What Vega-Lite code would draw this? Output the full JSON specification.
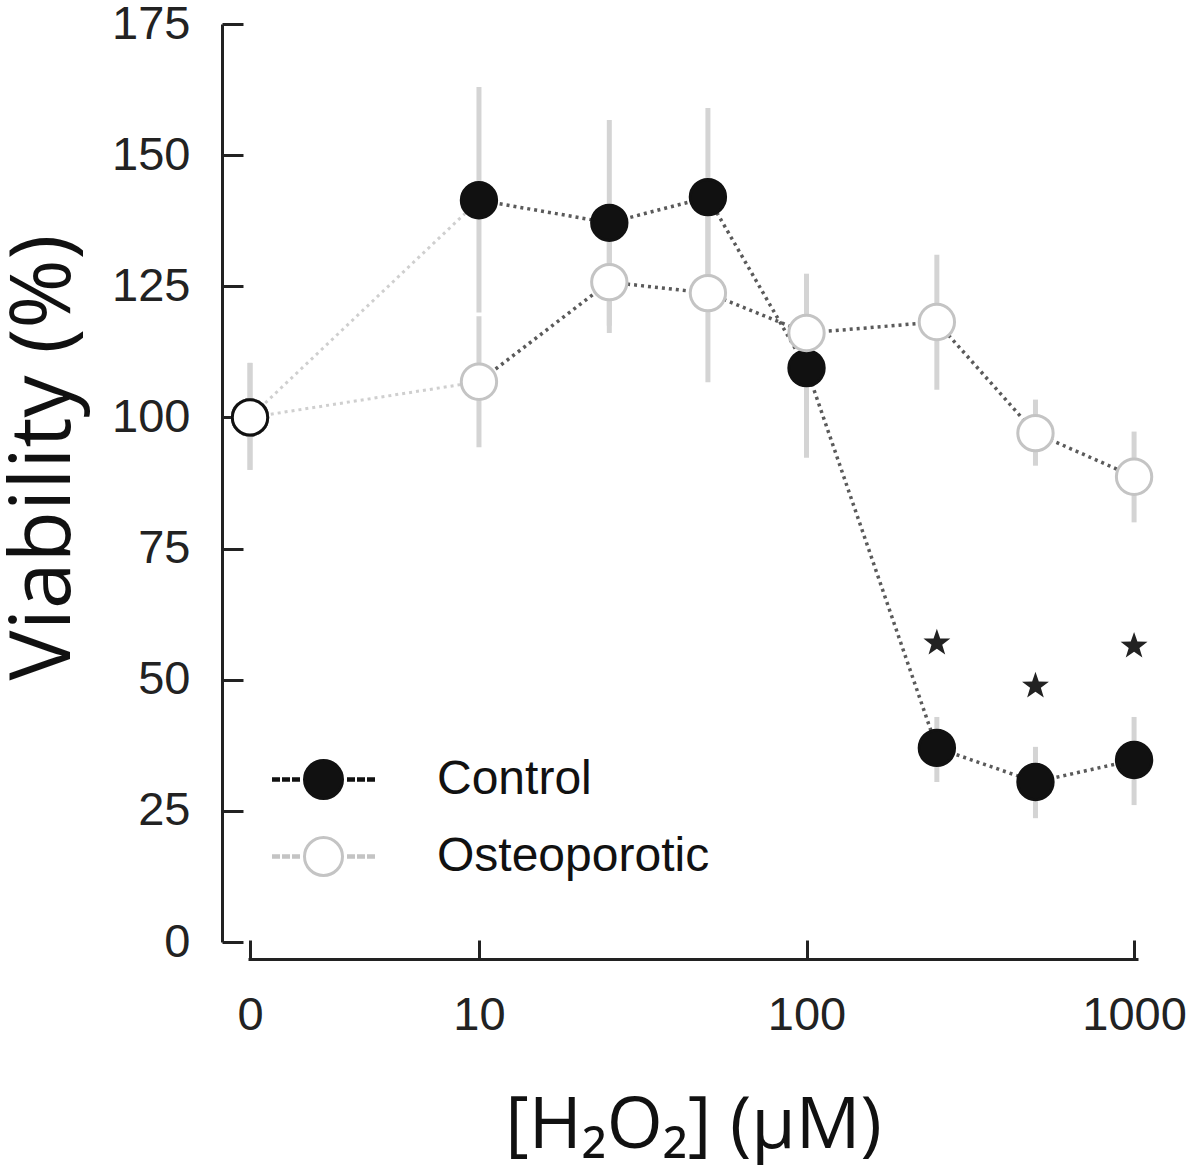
{
  "$schema": "https://vega.github.io/schema/vega-lite/v6.json",
  "width": 890,
  "height": 918,
  "autosize": "none",
  "padding": {"left": 248, "top": 24, "right": 62, "bottom": 229},
  "background": "white",
  "config": {"view": {"stroke": null}},
  "datasets": {
    "obs": [
      {"conc": 0, "group": "Control", "mean": 100, "lo": 90, "hi": 110.4, "star": null},
      {"conc": 10, "group": "Control", "mean": 141.4, "lo": 120, "hi": 163, "star": null},
      {"conc": 25, "group": "Control", "mean": 137.1, "lo": 117.5, "hi": 156.7, "star": null},
      {"conc": 50, "group": "Control", "mean": 142, "lo": 124.8, "hi": 159, "star": null},
      {"conc": 100, "group": "Control", "mean": 109.4, "lo": 92.3, "hi": 126.5, "star": null},
      {"conc": 250, "group": "Control", "mean": 37, "lo": 30.5, "hi": 42.9, "star": 57},
      {"conc": 500, "group": "Control", "mean": 30.5, "lo": 23.6, "hi": 37.2, "star": 48.8},
      {"conc": 1000, "group": "Control", "mean": 34.7, "lo": 26.1, "hi": 42.9, "star": 56.4},
      {"conc": 0, "group": "Osteoporotic", "mean": 100, "lo": 90, "hi": 110.4, "star": null},
      {"conc": 10, "group": "Osteoporotic", "mean": 106.8, "lo": 94.3, "hi": 119.3, "star": null},
      {"conc": 25, "group": "Osteoporotic", "mean": 125.8, "lo": 116.1, "hi": 135.5, "star": null},
      {"conc": 50, "group": "Osteoporotic", "mean": 123.7, "lo": 106.7, "hi": 140.7, "star": null},
      {"conc": 100, "group": "Osteoporotic", "mean": 116.1, "lo": 104.8, "hi": 127.4, "star": null},
      {"conc": 250, "group": "Osteoporotic", "mean": 118.2, "lo": 105.3, "hi": 131, "star": null},
      {"conc": 500, "group": "Osteoporotic", "mean": 97, "lo": 90.8, "hi": 103.4, "star": null},
      {"conc": 1000, "group": "Osteoporotic", "mean": 88.7, "lo": 80, "hi": 97.3, "star": null}
    ]
  },
  "data": {"name": "obs"},
  "transform": [{"calculate": "datum.conc == 0 ? 2 : datum.conc", "as": "x"}],
  "encoding": {
    "x": {
      "field": "x",
      "type": "quantitative",
      "scale": {"type": "log", "domain": [1.972, 1028], "nice": false},
      "axis": {
        "values": [2, 10, 100, 1000],
        "labelExpr": "datum.value < 5 ? '0' : format(datum.value, 'd')",
        "offset": 17,
        "tickSize": -19,
        "tickWidth": 3,
        "tickColor": "#222",
        "domainColor": "#222",
        "domainWidth": 3,
        "grid": false,
        "labelFont": "Liberation Sans",
        "labelFontSize": 47,
        "labelColor": "#222",
        "labelPadding": 52,
        "labelFlush": false,
        "title": "[H₂O₂] (μM)",
        "titleFont": "Open Sans",
        "titleFontSize": 72,
        "titleFontWeight": "normal",
        "titleColor": "#111",
        "titleX": 445,
        "titleY": 166,
        "titleBaseline": "middle",
        "titleAlign": "center"
      }
    }
  },
  "layer": [
    {
      "mark": {"type": "rule", "color": "#d4d4d4", "strokeWidth": 5},
      "encoding": {
        "y": {
          "field": "lo",
          "type": "quantitative",
          "scale": {"domain": [0, 175], "nice": false},
          "axis": {
            "values": [0, 25, 50, 75, 100, 125, 150, 175],
            "offset": 26,
            "tickSize": -21,
            "tickWidth": 3,
            "tickColor": "#222",
            "domainColor": "#222",
            "domainWidth": 3,
            "grid": false,
            "labelFont": "Liberation Sans",
            "labelFontSize": 47,
            "labelColor": "#222",
            "labelPadding": 53,
            "labelFlush": false,
            "title": "Viability (%)",
            "titleFont": "Open Sans",
            "titleFontSize": 84,
            "titleFontWeight": "normal",
            "titleColor": "#111",
            "titleX": -178,
            "titleY": 433,
            "titleBaseline": "middle",
            "titleAlign": "center",
            "titleAngle": -90
          }
        },
        "y2": {"field": "hi"}
      }
    },
    {
      "transform": [{"filter": "datum.conc <= 10"}],
      "mark": {"type": "line", "color": "#cfcfcf", "strokeWidth": 3, "strokeDash": [3, 4]},
      "encoding": {
        "y": {"field": "mean", "type": "quantitative"},
        "detail": {"field": "group", "type": "nominal"}
      }
    },
    {
      "transform": [{"filter": "datum.conc >= 10"}],
      "mark": {"type": "line", "color": "#5a5a5a", "strokeWidth": 3.5, "strokeDash": [3, 4]},
      "encoding": {
        "y": {"field": "mean", "type": "quantitative"},
        "detail": {"field": "group", "type": "nominal"}
      }
    },
    {
      "mark": {"type": "point", "shape": "circle", "size": 1250, "strokeWidth": 3, "opacity": 1, "filled": false},
      "encoding": {
        "y": {"field": "mean", "type": "quantitative"},
        "fill": {
          "field": "group",
          "type": "nominal",
          "scale": {"domain": ["Control", "Osteoporotic"], "range": ["#111111", "#ffffff"]},
          "legend": {
            "orient": "none",
            "legendX": 24,
            "legendY": 704,
            "title": null,
            "padding": 0,
            "symbolType": "M0.38,0A0.38,0.38,0,1,1,-0.38,0A0.38,0.38,0,1,1,0.38,0ZM-1,-0.015L-0.9,-0.015L-0.9,0.015L-1,0.015ZM-0.8,-0.015L-0.7,-0.015L-0.7,0.015L-0.8,0.015ZM-0.6,-0.015L-0.5,-0.015L-0.5,0.015L-0.6,0.015ZM0.5,-0.015L0.6,-0.015L0.6,0.015L0.5,0.015ZM0.7,-0.015L0.8,-0.015L0.8,0.015L0.7,0.015ZM0.9,-0.015L1,-0.015L1,0.015L0.9,0.015Z",
            "symbolSize": 10000,
            "symbolStrokeWidth": 3,
            "labelFont": "Liberation Sans",
            "labelFontSize": 48,
            "labelColor": "#111",
            "labelOffset": 62,
            "rowPadding": -3,
            "labelLimit": 0
          }
        },
        "stroke": {
          "field": "group",
          "type": "nominal",
          "scale": {"domain": ["Control", "Osteoporotic"], "range": ["#111111", "#c4c4c4"]}
        }
      }
    },
    {
      "transform": [{"filter": "datum.conc == 0 && datum.group == 'Osteoporotic'"}],
      "mark": {"type": "point", "shape": "circle", "size": 1250, "strokeWidth": 3, "opacity": 1, "fill": "#ffffff", "stroke": "#111111", "filled": false},
      "encoding": {
        "y": {"field": "mean", "type": "quantitative"}
      }
    },
    {
      "transform": [{"filter": "isValid(datum.star)"}],
      "mark": {"type": "point", "shape": "M0,-1L0.235,-0.324L0.951,-0.309L0.38,0.124L0.588,0.809L0,0.4L-0.588,0.809L-0.38,0.124L-0.951,-0.309L-0.235,-0.324Z", "size": 800, "filled": true, "color": "#222222", "opacity": 1},
      "encoding": {
        "y": {"field": "star", "type": "quantitative"}
      }
    }
  ]
}
